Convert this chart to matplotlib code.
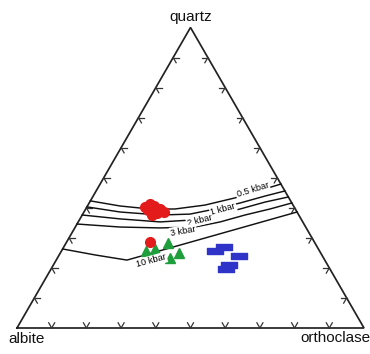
import numpy as np
import matplotlib.pyplot as plt
from matplotlib.path import Path

# ternary quartz - albite - orthoclase, values in percent (albite = 100 - qz - or)
red_qz = [40.3, 41.3, 40.6, 38.6, 39.3, 39.6, 38.6, 38.3, 37.6, 28.6]
red_or = [16.8, 17.7, 19.2, 19.9, 18.2, 21.4, 23.1, 21.2, 20.1, 24.0]

green_qz = [25.6, 26.3, 28.3, 25.0, 23.3]
green_or = [24.4, 26.6, 29.4, 34.2, 32.5]

blue_qz = [25.5, 26.8, 24.1, 21.1, 19.5]
blue_or = [44.3, 46.3, 51.9, 50.5, 50.4]

# minimum curves for different pressures
curve_names = ["0.5 kbar", "1 kbar", "2 kbar", "3 kbar", "10 kbar"]
curve_qz = [
    [42.3, 40.6, 39.6, 39.6, 40.9, 43.3, 45.6, 47.9],
    [40.3, 38.6, 37.6, 37.9, 39.6, 41.6, 43.9, 45.6],
    [37.6, 36.3, 35.3, 35.9, 37.6, 39.6, 41.9, 43.6],
    [34.6, 33.6, 33.3, 33.6, 35.3, 37.6, 39.6, 41.6],
    [26.3, 24.3, 22.6, 38.6],
]
curve_or = [
    [0.0, 9.4, 18.5, 25.7, 33.7, 41.2, 46.7, 52.1],
    [0.0, 10.4, 22.4, 30.9, 37.3, 43.5, 49.5, 54.4],
    [0.0, 11.6, 23.6, 31.9, 38.3, 44.5, 50.5, 56.4],
    [0.0, 12.9, 24.6, 34.5, 40.9, 46.9, 53.1, 58.4],
    [0.0, 10.4, 20.4, 61.4],
]
label_qz = [45.9, 39.6, 35.9, 32.3, 22.3]
label_or = [45.0, 39.6, 34.7, 31.7, 27.5]
label_rot = [17, 15, 14, 10, 15]

h = np.sqrt(3) / 2


def tern(qz, orth):
    qz = np.asarray(qz) / 100.0
    orth = np.asarray(orth) / 100.0
    return orth + qz / 2, qz * h


fig = plt.figure(figsize=(3.7, 3.54), dpi=100)
ax = fig.add_axes([0, 0, 1, 1])
ax.set_xlim(-17 / 347, 353 / 347)
ax.set_ylim(-26 / 347, 328 / 347)
ax.axis("off")

# triangle
corners = np.array([[0, 0], [1, 0], [0.5, h], [0, 0]])
ax.plot(corners[:, 0], corners[:, 1], color="#222222", lw=1.25, solid_joinstyle="miter")

# chevron ticks every 10 % along each side, opening towards the inside
L = 6 / 347
sides = [((0, 0), (1, 0)), ((1, 0), (0.5, h)), ((0.5, h), (0, 0))]
for a, b in sides:
    a = np.array(a)
    b = np.array(b)
    d = (b - a) / np.linalg.norm(b - a)
    n = np.array([-d[1], d[0]])  # inward normal (counter-clockwise order)
    for t in np.arange(0.1, 0.95, 0.1):
        p = a + (b - a) * t
        for ang in (np.pi / 6, -np.pi / 6):
            c, s = np.cos(ang), np.sin(ang)
            arm = np.array([c * n[0] - s * n[1], s * n[0] + c * n[1]])
            q = p + arm * L
            ax.plot([p[0], q[0]], [p[1], q[1]], color="#333333", lw=0.9)

# corner labels
lab = dict(fontsize=11, family=["Liberation Sans", "DejaVu Sans"], color="#111111",
           textcoords="offset points", va="baseline")
ax.annotate("quartz", (0.5, h), xytext=(0, 4.7), ha="center", **lab)
ax.annotate("albite", (0, 0), xytext=(-6.5, -10.8), ha="left", **lab)
ax.annotate("orthoclase", (1, 0), xytext=(-46, -10.3), ha="left", **lab)

# pressure curves with inline labels
for i in range(len(curve_names)):
    x, y = tern(curve_qz[i], curve_or[i])
    ax.plot(x, y, color="#111111", lw=1.05)
    lx, ly = tern(label_qz[i], label_or[i])
    ax.text(lx, ly, curve_names[i], fontsize=6.6, rotation=label_rot[i],
            rotation_mode="anchor", ha="center", va="center", color="#000000",
            family=["Liberation Sans", "DejaVu Sans"],
            bbox=dict(boxstyle="square,pad=0.1", fc="white", ec="none"))

# samples
rect = Path([(-1, -0.45), (1, -0.45), (1, 0.45), (-1, 0.45), (-1, -0.45)],
            [Path.MOVETO, Path.LINETO, Path.LINETO, Path.LINETO, Path.CLOSEPOLY])
x, y = tern(blue_qz, blue_or)
ax.plot(x, y, ls="none", marker=rect, ms=11, color="#2f33c8", mec="#2f33c8")
x, y = tern(green_qz, green_or)
ax.plot(x, y, ls="none", marker="^", ms=7.5, color="#1f9e3c", mec="#1f9e3c")
x, y = tern(red_qz, red_or)
ax.plot(x, y, ls="none", marker="o", ms=7, color="#e41b1b", mec="#e41b1b")

fig.savefig("out.png", dpi=100)
